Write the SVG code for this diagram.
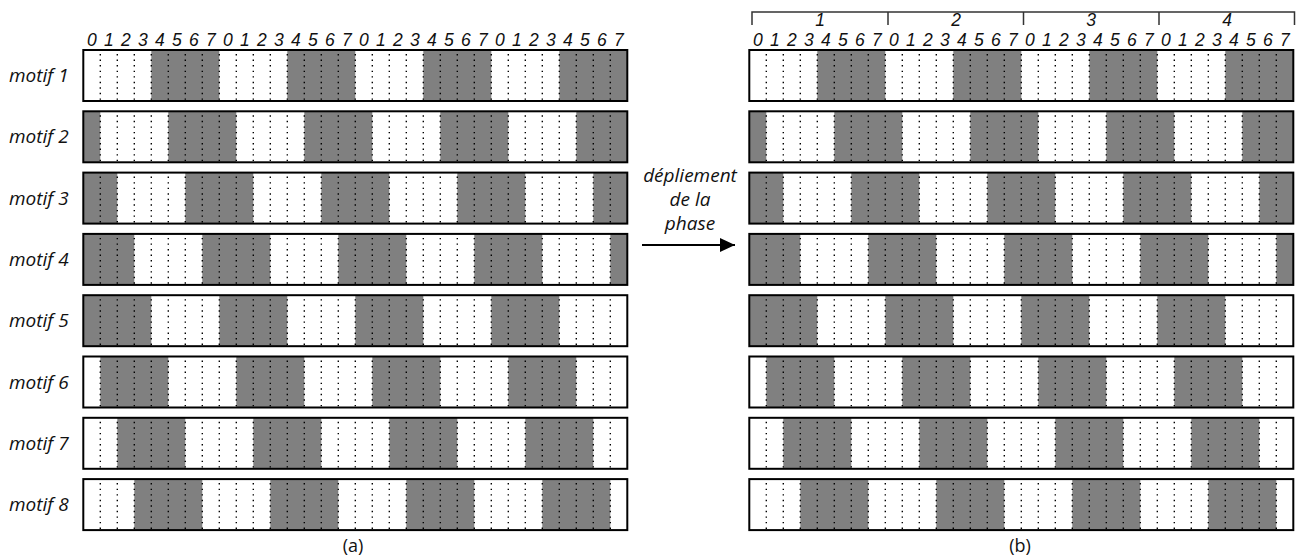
<svg xmlns="http://www.w3.org/2000/svg" xmlns:xlink="http://www.w3.org/1999/xlink" width="1297" height="557" viewBox="0 0 1297 557">
<style>
.bg{fill:#fff}
.on{fill:#808080}
.frame{fill:none;stroke:#000;stroke-width:2}
.dot{stroke:#000;stroke-width:1.4;stroke-dasharray:1.4 4.15}
.lbl{font-family:"Open Sans","Noto Sans",sans-serif;font-style:italic;font-size:19px;fill:#111}
.txt{font-family:"Open Sans","Noto Sans",sans-serif;font-style:italic;font-size:19px;fill:#111;text-anchor:middle}
.num{font-family:"Liberation Sans",Arial,sans-serif;font-style:italic;font-size:17.5px;fill:#111;text-anchor:middle}
.cap{font-family:"Open Sans","Noto Sans",sans-serif;font-size:18px;fill:#111;text-anchor:middle}
.brk{fill:none;stroke:#333;stroke-width:1.5}
.arr{stroke:#000;stroke-width:2;fill:none}
</style>
<defs>
<marker id="ah" markerWidth="16" markerHeight="14" refX="15" refY="7" orient="auto" markerUnits="userSpaceOnUse">
<path d="M0,0 L15,7 L0,14 Z" fill="#000"/>
</marker>
<g id="dots">
<line class="dot" x1="17" y1="4" x2="17" y2="51"/><line class="dot" x1="34" y1="4" x2="34" y2="51"/><line class="dot" x1="51" y1="4" x2="51" y2="51"/><line class="dot" x1="68" y1="4" x2="68" y2="51"/><line class="dot" x1="85" y1="4" x2="85" y2="51"/><line class="dot" x1="102" y1="4" x2="102" y2="51"/><line class="dot" x1="119" y1="4" x2="119" y2="51"/><line class="dot" x1="136" y1="4" x2="136" y2="51"/><line class="dot" x1="153" y1="4" x2="153" y2="51"/><line class="dot" x1="170" y1="4" x2="170" y2="51"/><line class="dot" x1="187" y1="4" x2="187" y2="51"/><line class="dot" x1="204" y1="4" x2="204" y2="51"/><line class="dot" x1="221" y1="4" x2="221" y2="51"/><line class="dot" x1="238" y1="4" x2="238" y2="51"/><line class="dot" x1="255" y1="4" x2="255" y2="51"/><line class="dot" x1="272" y1="4" x2="272" y2="51"/><line class="dot" x1="289" y1="4" x2="289" y2="51"/><line class="dot" x1="306" y1="4" x2="306" y2="51"/><line class="dot" x1="323" y1="4" x2="323" y2="51"/><line class="dot" x1="340" y1="4" x2="340" y2="51"/><line class="dot" x1="357" y1="4" x2="357" y2="51"/><line class="dot" x1="374" y1="4" x2="374" y2="51"/><line class="dot" x1="391" y1="4" x2="391" y2="51"/><line class="dot" x1="408" y1="4" x2="408" y2="51"/><line class="dot" x1="425" y1="4" x2="425" y2="51"/><line class="dot" x1="442" y1="4" x2="442" y2="51"/><line class="dot" x1="459" y1="4" x2="459" y2="51"/><line class="dot" x1="476" y1="4" x2="476" y2="51"/><line class="dot" x1="493" y1="4" x2="493" y2="51"/><line class="dot" x1="510" y1="4" x2="510" y2="51"/><line class="dot" x1="527" y1="4" x2="527" y2="51"/>
</g>
<g id="p1"><rect class="bg" width="544" height="51"/><rect class="on" x="68" width="68" height="51"/><rect class="on" x="204" width="68" height="51"/><rect class="on" x="340" width="68" height="51"/><rect class="on" x="476" width="68" height="51"/><use xlink:href="#dots"/><rect class="frame" width="544" height="51"/></g>
<g id="p2"><rect class="bg" width="544" height="51"/><rect class="on" x="0" width="17" height="51"/><rect class="on" x="85" width="68" height="51"/><rect class="on" x="221" width="68" height="51"/><rect class="on" x="357" width="68" height="51"/><rect class="on" x="493" width="51" height="51"/><use xlink:href="#dots"/><rect class="frame" width="544" height="51"/></g>
<g id="p3"><rect class="bg" width="544" height="51"/><rect class="on" x="0" width="34" height="51"/><rect class="on" x="102" width="68" height="51"/><rect class="on" x="238" width="68" height="51"/><rect class="on" x="374" width="68" height="51"/><rect class="on" x="510" width="34" height="51"/><use xlink:href="#dots"/><rect class="frame" width="544" height="51"/></g>
<g id="p4"><rect class="bg" width="544" height="51"/><rect class="on" x="0" width="51" height="51"/><rect class="on" x="119" width="68" height="51"/><rect class="on" x="255" width="68" height="51"/><rect class="on" x="391" width="68" height="51"/><rect class="on" x="527" width="17" height="51"/><use xlink:href="#dots"/><rect class="frame" width="544" height="51"/></g>
<g id="p5"><rect class="bg" width="544" height="51"/><rect class="on" x="0" width="68" height="51"/><rect class="on" x="136" width="68" height="51"/><rect class="on" x="272" width="68" height="51"/><rect class="on" x="408" width="68" height="51"/><use xlink:href="#dots"/><rect class="frame" width="544" height="51"/></g>
<g id="p6"><rect class="bg" width="544" height="51"/><rect class="on" x="17" width="68" height="51"/><rect class="on" x="153" width="68" height="51"/><rect class="on" x="289" width="68" height="51"/><rect class="on" x="425" width="68" height="51"/><use xlink:href="#dots"/><rect class="frame" width="544" height="51"/></g>
<g id="p7"><rect class="bg" width="544" height="51"/><rect class="on" x="34" width="68" height="51"/><rect class="on" x="170" width="68" height="51"/><rect class="on" x="306" width="68" height="51"/><rect class="on" x="442" width="68" height="51"/><use xlink:href="#dots"/><rect class="frame" width="544" height="51"/></g>
<g id="p8"><rect class="bg" width="544" height="51"/><rect class="on" x="51" width="68" height="51"/><rect class="on" x="187" width="68" height="51"/><rect class="on" x="323" width="68" height="51"/><rect class="on" x="459" width="68" height="51"/><use xlink:href="#dots"/><rect class="frame" width="544" height="51"/></g>
</defs>
<rect width="1297" height="557" fill="#fff"/>

<g id="header-a">
<text class="num" y="46"><tspan x="91.8">0</tspan><tspan x="108.8">1</tspan><tspan x="125.8">2</tspan><tspan x="142.8">3</tspan><tspan x="159.8">4</tspan><tspan x="176.8">5</tspan><tspan x="193.8">6</tspan><tspan x="210.8">7</tspan><tspan x="227.8">0</tspan><tspan x="244.8">1</tspan><tspan x="261.8">2</tspan><tspan x="278.8">3</tspan><tspan x="295.8">4</tspan><tspan x="312.8">5</tspan><tspan x="329.8">6</tspan><tspan x="346.8">7</tspan><tspan x="363.8">0</tspan><tspan x="380.8">1</tspan><tspan x="397.8">2</tspan><tspan x="414.8">3</tspan><tspan x="431.8">4</tspan><tspan x="448.8">5</tspan><tspan x="465.8">6</tspan><tspan x="482.8">7</tspan><tspan x="499.8">0</tspan><tspan x="516.8">1</tspan><tspan x="533.8">2</tspan><tspan x="550.8">3</tspan><tspan x="567.8">4</tspan><tspan x="584.8">5</tspan><tspan x="601.8">6</tspan><tspan x="618.8">7</tspan></text>
</g>

<g id="header-b">
<path class="brk" d="M752,25 V12 H1294.5 V25 M888,12 V25 M1023.5,12 V25 M1159,12 V25"/>
<text class="num" y="26"><tspan x="820">1</tspan><tspan x="956">2</tspan><tspan x="1091">3</tspan><tspan x="1227">4</tspan></text>
<text class="num" y="46"><tspan x="757.8">0</tspan><tspan x="774.8">1</tspan><tspan x="791.8">2</tspan><tspan x="808.8">3</tspan><tspan x="825.8">4</tspan><tspan x="842.8">5</tspan><tspan x="859.8">6</tspan><tspan x="876.8">7</tspan><tspan x="893.8">0</tspan><tspan x="910.8">1</tspan><tspan x="927.8">2</tspan><tspan x="944.8">3</tspan><tspan x="961.8">4</tspan><tspan x="978.8">5</tspan><tspan x="995.8">6</tspan><tspan x="1012.8">7</tspan><tspan x="1029.8">0</tspan><tspan x="1046.8">1</tspan><tspan x="1063.8">2</tspan><tspan x="1080.8">3</tspan><tspan x="1097.8">4</tspan><tspan x="1114.8">5</tspan><tspan x="1131.8">6</tspan><tspan x="1148.8">7</tspan><tspan x="1165.8">0</tspan><tspan x="1182.8">1</tspan><tspan x="1199.8">2</tspan><tspan x="1216.8">3</tspan><tspan x="1233.8">4</tspan><tspan x="1250.8">5</tspan><tspan x="1267.8">6</tspan><tspan x="1284.8">7</tspan></text>
</g>

<g id="labels">
<text class="lbl" x="9" y="82">motif 1</text>
<text class="lbl" x="9" y="143.3">motif 2</text>
<text class="lbl" x="9" y="204.6">motif 3</text>
<text class="lbl" x="9" y="265.9">motif 4</text>
<text class="lbl" x="9" y="327.2">motif 5</text>
<text class="lbl" x="9" y="388.5">motif 6</text>
<text class="lbl" x="9" y="449.8">motif 7</text>
<text class="lbl" x="9" y="511.1">motif 8</text>
</g>

<g id="a-motif1"><use xlink:href="#p1" x="83.3" y="50"/></g>
<g id="a-motif2"><use xlink:href="#p2" x="83.3" y="111.3"/></g>
<g id="a-motif3"><use xlink:href="#p3" x="83.3" y="172.6"/></g>
<g id="a-motif4"><use xlink:href="#p4" x="83.3" y="233.9"/></g>
<g id="a-motif5"><use xlink:href="#p5" x="83.3" y="295.2"/></g>
<g id="a-motif6"><use xlink:href="#p6" x="83.3" y="356.5"/></g>
<g id="a-motif7"><use xlink:href="#p7" x="83.3" y="417.8"/></g>
<g id="a-motif8"><use xlink:href="#p8" x="83.3" y="479.1"/></g>

<g id="b-motif1"><use xlink:href="#p1" x="749.3" y="50"/></g>
<g id="b-motif2"><use xlink:href="#p2" x="749.3" y="111.3"/></g>
<g id="b-motif3"><use xlink:href="#p3" x="749.3" y="172.6"/></g>
<g id="b-motif4"><use xlink:href="#p4" x="749.3" y="233.9"/></g>
<g id="b-motif5"><use xlink:href="#p5" x="749.3" y="295.2"/></g>
<g id="b-motif6"><use xlink:href="#p6" x="749.3" y="356.5"/></g>
<g id="b-motif7"><use xlink:href="#p7" x="749.3" y="417.8"/></g>
<g id="b-motif8"><use xlink:href="#p8" x="749.3" y="479.1"/></g>

<g id="connectors">
<line class="arr" x1="642" y1="245" x2="735" y2="245" marker-end="url(#ah)"/>
<text class="txt" x="690" y="182">dépliement</text>
<text class="txt" x="690" y="206">de la</text>
<text class="txt" x="690" y="230">phase</text>
</g>

<g id="captions">
<text class="cap" x="353" y="552">(a)</text>
<text class="cap" x="1020" y="552">(b)</text>
</g>
</svg>
